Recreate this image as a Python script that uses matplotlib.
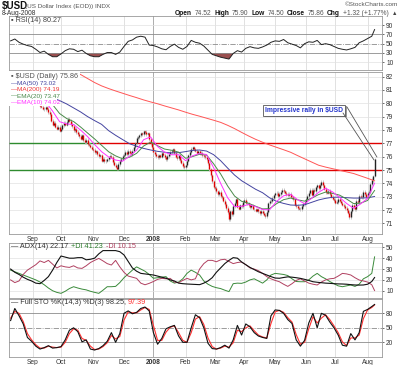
import numpy as np
import pandas as pd
import matplotlib
matplotlib.use("Agg")
import matplotlib.pyplot as plt
from matplotlib.patches import Rectangle

plt.rcParams['font.family'] = ['Liberation Sans', 'DejaVu Sans']

W, H = 400, 365          # output size in pixels
LEFT, RIGHT = 9, 382     # plot area, pixel columns
XMIN, XMAX = -1.15, 265.3

# ---- data --------------------------------------------------------------
first_day, last_day = '2007-08-10', '2008-08-08'

# daily closes, one row per week
closes = [
    80.90,
    81.05, 81.20, 81.35, 81.50, 81.30,
    81.35, 81.20, 81.25, 81.05, 80.95,
    81.10, 81.30, 81.15, 81.05, 80.85,
    80.80, 80.95, 80.60, 80.45, 80.15,
    79.80, 79.75, 79.60, 79.55, 79.70,
    79.60, 79.35, 79.20, 78.70, 78.40,
    78.55, 78.25, 78.10, 78.25, 77.95,
    78.10, 78.35, 78.55, 78.40, 78.60,
    78.85, 78.70, 78.45, 78.30, 78.00,
    78.10, 77.85, 77.70, 77.55, 77.35,
    77.60, 77.25, 77.10, 77.25, 76.95,
    76.90, 76.75, 76.60, 76.50, 76.35,
    76.40, 76.20, 76.05, 76.10, 75.70,
    75.85, 75.65, 75.70, 75.80, 75.95,
    76.05, 76.00, 75.60, 75.40, 75.25,
    75.10, 75.45, 75.70, 75.85, 76.05,
    76.15, 76.35, 76.20, 76.45, 76.30,
    76.20, 76.45, 76.70, 77.00, 77.40,
    77.45, 77.60, 77.75, 77.70, 77.90,
    77.85, 77.70, 77.75, 77.30, 77.00,
    76.70, 76.35, 76.20, 76.05, 75.95,
    76.10, 76.00, 76.25, 76.15, 75.95,
    75.80, 76.05, 76.20, 76.35, 76.45,
    76.55, 76.30, 76.00, 75.90, 76.10,
    75.75, 75.55, 75.30, 75.20, 75.35,
    75.70, 76.10, 76.35, 76.60, 76.70,
    76.55, 76.45, 76.30, 76.40, 76.25,
    76.30, 76.10, 76.05, 75.95, 75.80,
    75.50, 75.05, 74.60, 74.15, 73.70,
    73.65, 73.40, 73.20, 73.35, 73.05,
    72.95, 72.70, 72.45, 72.15, 71.85,
    71.30, 71.90, 71.70, 72.30, 72.55,
    72.80, 72.25, 72.10, 72.35, 72.30,
    72.60, 72.75, 72.55, 72.50, 72.35,
    72.20, 72.35, 72.10, 72.05, 71.95,
    72.05, 71.90, 71.75, 71.95, 71.80,
    71.65, 71.55, 71.85, 72.50, 72.70,
    72.65, 72.90, 73.10, 73.25, 73.30,
    73.05, 73.20, 73.35, 73.50, 73.40,
    73.30, 73.20, 73.10, 73.20, 73.00,
    72.95, 72.80, 72.40, 72.30, 72.15,
    72.10, 72.05, 72.30, 72.45, 72.60,
    72.85, 73.05, 73.30, 73.50, 73.15,
    73.50, 73.40, 73.70, 73.85, 73.65,
    73.90, 74.10, 73.85, 73.60, 73.35,
    73.30, 73.45, 73.20, 73.00, 72.85,
    72.75, 72.55, 72.60, 72.85, 72.70,
    72.55, 72.40, 72.30, 72.15, 72.00,
    71.80, 71.45, 71.90, 72.40, 72.20,
    72.05, 72.70, 72.60, 73.05, 73.00,
    72.95, 73.35, 73.20, 73.00, 73.30,
    73.35, 73.95, 74.25, 74.54, 75.86,
]
last_open, last_high, last_low = 74.52, 75.90, 74.50

# overlays, sampled every 5th session
ma50 = [80.90, 80.85, 80.80, 80.75, 80.65, 80.55, 80.40, 80.20, 79.95, 79.65,
        79.35, 79.00, 78.70, 78.42, 77.95, 77.60, 77.28, 76.97, 76.78, 76.62,
        76.50, 76.40, 76.33, 76.28, 76.30, 76.38, 76.47, 76.50, 76.42, 76.15,
        75.70, 75.15, 74.62, 74.20, 73.88, 73.56, 73.30, 72.92, 72.65, 72.50,
        72.38, 72.36, 72.40, 72.58, 72.76, 72.88, 72.96, 72.97, 72.93, 72.90,
        72.90, 72.92, 73.02]
ma200 = [83.90, 83.75, 83.60, 83.45, 83.30, 83.10, 82.90, 82.70, 82.55, 82.40,
         82.15, 81.85, 81.55, 81.30, 81.10, 80.92, 80.75, 80.58, 80.42, 80.25,
         80.10, 79.96, 79.80, 79.65, 79.50, 79.33, 79.17, 79.03, 78.88, 78.73,
         78.57, 78.35, 78.10, 77.82, 77.55, 77.30, 77.08, 76.88, 76.70, 76.52,
         76.33, 76.08, 75.84, 75.60, 75.36, 75.22, 75.10, 74.98, 74.86, 74.74,
         74.56, 74.38, 74.19]
ema20 = [81.00, 81.10, 81.10, 81.10, 80.93, 80.45, 79.90, 79.23, 78.86, 78.63,
         78.22, 77.77, 77.33, 76.85, 76.37, 76.06, 75.84, 75.96, 76.25, 76.80,
         77.09, 76.82, 76.57, 76.48, 76.34, 75.88, 76.01, 76.18, 76.12, 75.47,
         74.71, 73.81, 73.05, 72.66, 72.51, 72.29, 72.09, 72.11, 72.48, 72.78,
         72.90, 72.77, 72.67, 72.89, 73.16, 73.35, 73.25, 73.12, 72.83, 72.49,
         72.52, 72.72, 73.47]
ema10 = [80.90, 81.15, 81.15, 81.14, 80.78, 80.09, 79.41, 78.62, 78.45, 78.41,
         77.99, 77.50, 76.91, 76.37, 75.98, 75.75, 75.66, 76.04, 76.49, 77.27,
         77.48, 76.76, 76.34, 76.14, 76.15, 75.70, 76.07, 76.24, 76.16, 75.18,
         74.01, 72.93, 72.26, 72.28, 72.42, 72.26, 72.04, 72.02, 72.65, 73.07,
         73.18, 72.78, 72.47, 72.88, 73.33, 73.64, 73.36, 72.95, 72.50, 72.13,
         72.46, 72.88, 74.02]

# indicators, sampled every 3rd session plus the last one
rsi = [56, 60, 53, 49, 46, 44, 38, 31, 34, 27,
       22, 22, 28, 35, 39, 38, 33, 36, 29, 24,
       22, 22, 27, 31, 31, 27, 32, 44, 55, 58,
       64, 66, 64, 47, 46, 43, 39, 37, 44, 49,
       42, 38, 44, 57, 53, 51, 45, 36, 27, 24,
       21, 19, 17, 29, 35, 32, 40, 43.6, 41, 40,
       43, 47, 53, 56, 55, 59, 52, 49, 46, 41,
       50, 54, 53, 57, 48, 50, 48, 44, 40, 38,
       36.5, 39, 42, 52, 56, 61, 66, 80.27]
sto_k = [65, 90, 75, 58, 30, 22, 12, 6, 9, 13,
         8, 9, 11, 25, 45, 50, 42, 21, 25, 6,
         4, 7, 13, 22, 40, 20, 38, 80, 85, 79,
         82, 90, 93, 85, 40, 16, 28, 48, 52, 55,
         33, 20, 20, 50, 77, 71, 50, 18, 7, 6,
         9, 14, 8, 25, 55, 35, 58, 52, 40, 33,
         30, 28, 75, 87, 86, 80, 67, 59, 25, 12,
         24, 60, 80, 50, 80, 76, 62, 50, 35, 14,
         12, 38, 25, 40, 84, 88, 94, 98.25]
sto_d = [70, 84, 80, 63, 38, 25, 15, 8, 8, 12,
         10, 9, 10, 20, 38, 48, 45, 28, 24, 12,
         5, 6, 11, 19, 34, 27, 32, 66, 83, 81,
         81, 87, 92, 88, 55, 24, 24, 41, 51, 54,
         40, 24, 20, 40, 68, 73, 57, 29, 11, 6,
         8, 12, 10, 19, 45, 42, 50, 54, 44, 35,
         31, 29, 59, 83, 86, 82, 71, 62, 36, 16,
         20, 48, 73, 60, 70, 77, 67, 54, 40, 21,
         13, 29, 29, 35, 69, 87, 92, 97.39]
adx = [30, 27, 25, 22.5, 20.5, 19, 17, 16.5, 19.5, 23,
       29, 36, 42, 41, 40, 40, 40.5, 40.5, 38.5, 39,
       40, 44, 47, 47, 47, 47, 46, 43, 37, 31,
       28, 26, 25.5, 25, 24.5, 23.5, 22.5, 21.5, 20, 19,
       17, 16.5, 16.2, 16, 15.8, 15.6, 17, 19, 22, 27,
       31, 35, 38, 40.5, 40, 36.5, 34, 31.5, 29.5, 27.5,
       26, 24.5, 23, 21.7, 21.5, 22.2, 22.8, 22.5, 22, 21.4,
       20.5, 19.5, 18.3, 17.8, 17.4, 17, 16.8, 16.5, 16.3, 16.2,
       16, 15.6, 15.3, 15.2, 15.3, 16, 18.5, 22.17]
plus_di = [29, 27.5, 26, 24.5, 23, 21.5, 20, 18, 15.5, 12.5,
           10, 8.5, 7.6, 9.5, 12, 13.7, 12.5, 11.5, 10.8, 9.5,
           8.5, 7.6, 10.5, 13.7, 13.7, 14, 17.5, 22, 25.5, 29,
           32, 30, 28, 25, 21.5, 22, 22.5, 23, 19, 17,
           18, 21, 26, 29, 27, 24.5, 19, 16, 14, 12.8,
           12, 10.5, 9.2, 16.5, 17, 16.8, 18, 20, 21, 19,
           17, 20, 24.5, 26, 25.5, 25, 24, 21, 18.5, 18.3,
           18.3, 20, 23.5, 26, 23, 21, 18.5, 16.5, 14.5, 13.7,
           14.5, 15.3, 14, 16, 21, 23, 26, 41.23]
minus_di = [20, 17.5, 19, 25, 29, 31.5, 34, 37.5, 36, 38,
            34.5, 31, 33, 32, 31.5, 33, 31, 30.6, 33, 36,
            38, 39.8, 37.5, 35, 33.7, 38, 32, 27, 23.5, 22.5,
            21.4, 17, 15.5, 16.8, 18.5, 20.5, 21.4, 21, 21.4, 18,
            17.5, 19.5, 21.4, 20, 21, 30, 35, 38, 38, 36.7,
            38.5, 39, 37, 35, 36, 36.5, 34, 31, 30, 28.5,
            26, 23, 21, 19.5, 18.3, 16, 14, 16.5, 19.5, 21,
            19, 17, 16, 15.3, 18, 20, 21, 21.4, 23.5, 26,
            25.5, 24.5, 22, 19.9, 19, 18, 15.5, 10.15]

# support / resistance lines and the day each one was broken
levels = [77, 75]
level_breaks = ['2007-11-05', '2008-02-26']

month_labels = ['Sep', 'Oct', 'Nov', 'Dec', '2008', 'Feb',
                'Mar', 'Apr', 'May', 'Jun', 'Jul', 'Aug']

quote = [('Open', '74.52'), ('High', '75.90'), ('Low', '74.50'),
         ('Close', '75.86'), ('Chg', '+1.32 (+1.77%)')]

WICK = 0.12
FS = 5.2      # panel label size
TFS = 4.8     # tick label size


def put(fig, px, py, s, **kw):
    """Write text at a pixel position of the figure"""
    kw.setdefault('fontsize', FS)
    kw.setdefault('va', 'center')
    kw.setdefault('color', '#333333')
    return fig.text(px / W, 1 - py / H, s, **kw)


def put_row(fig, px, py, pieces, gap=2.5):
    """Write (text, style) pieces one after the other on a pixel row"""
    renderer = fig.canvas.get_renderer()
    for s, kw in pieces:
        t = put(fig, px, py, s, **kw)
        px += t.get_window_extent(renderer).width + gap
    return px


def add_panel(fig, top, bottom, ylim, yticks, month_idx, jan_idx):
    """Axes between two pixel rows, StockCharts look"""
    ax = fig.add_axes([LEFT / W, 1 - bottom / H, (RIGHT - LEFT) / W, (bottom - top) / H])
    ax.set_xlim(XMIN, XMAX)
    ax.set_ylim(*ylim)
    for m in month_idx:
        ax.axvline(m, color='#a0a0a0' if m == jan_idx else '#dcdcdc', lw=0.6, zorder=0)
    ax.yaxis.tick_right()
    ax.set_yticks(yticks)
    ax.tick_params(axis='y', labelsize=TFS, length=1.5, width=0.5, pad=1.5,
                   colors='#333333')
    ax.set_xticks(month_idx)
    ax.tick_params(axis='x', length=0, labelbottom=False, labelsize=TFS, pad=1.5,
                   colors='#333333')
    for s in ax.spines.values():
        s.set_color('#999999')
        s.set_linewidth(0.6)
    return ax


def month_ticks(ax):
    ax.set_xticklabels(month_labels)
    ax.tick_params(axis='x', labelbottom=True)
    for lab in ax.get_xticklabels():
        if lab.get_text() == '2008':
            lab.set_fontweight('bold')


def draw_chart():
    days = pd.bdate_range(first_day, last_day)
    n = len(days)
    x = np.arange(n)
    x5 = x[::5]
    x3 = np.r_[x[:-1:3], x[-1]]
    month_idx = [i for i in range(1, n) if days[i].month != days[i - 1].month]
    jan_idx = month_idx[month_labels.index('2008')]

    fig = plt.figure(figsize=(W / 100, H / 100), dpi=100)

    # header
    put(fig, 2, 6, r'\$USD', fontsize=7, fontweight='bold', color='#111111')
    put(fig, 25, 6.5, '(US Dollar Index (EOD)) INDX', fontsize=4.6, color='#555555')
    put(fig, 2, 13.5, '8-Aug-2008', fontsize=4.8)
    put(fig, 398, 5, '\u00a9StockCharts.com', ha='right', fontsize=4.6, color='#555555')
    pieces = []
    for label, value in quote:
        pieces.append((label, dict(fontsize=4.8, fontweight='bold', color='#111111')))
        pieces.append((value, dict(fontsize=4.8, color='#555555')))
    put_row(fig, 175, 13.5, pieces, gap=2.8)
    put(fig, 397, 13.5, '\u25b2', ha='right', fontsize=4, color='#444444')

    # ---- RSI ----
    ax = add_panel(fig, 16, 70, (-6.5, 109.4), [10, 30, 50, 70, 90], month_idx, jan_idx)
    r = np.array(rsi, dtype=float)
    for lv in (10, 90):
        ax.axhline(lv, color='#e2e2e2', lw=0.5, zorder=0)
    ax.axhline(70, color='#8c8c8c', lw=0.6)
    ax.axhline(30, color='#8c8c8c', lw=0.6)
    ax.axhline(50, color='#8c8c8c', lw=0.6, ls='-.')
    ax.fill_between(x3, r, 30, where=r < 30, interpolate=True, color='#9a4f4f', lw=0)
    ax.plot(x3, r, color='#222222', lw=0.7)
    put(fig, 11, 20, '\u25aa RSI(14) 80.27', color='#444444')

    # ---- price ----
    ax = add_panel(fig, 72, 234, (70.21, 82.34), list(range(71, 83)), month_idx, jan_idx)
    for lv in range(71, 83):
        ax.axhline(lv, color='#e2e2e2', lw=0.5, zorder=0)
    for level, brk in zip(levels, level_breaks):
        b = days.searchsorted(pd.Timestamp(brk))
        ax.hlines(level, XMIN, b, color='#2e8b2e', lw=1.0, zorder=3)
        ax.hlines(level, b, XMAX, color='#e00000', lw=1.0, zorder=3)

    c = np.array(closes)
    o = np.r_[c[0], c[:-1]]
    o[-1] = last_open
    top = np.maximum(o, c)
    bot = np.minimum(o, c)
    hi = top + WICK
    lo = bot - WICK
    hi[-1], lo[-1] = last_high, last_low
    up = c >= o
    ax.vlines(x, lo, hi, color='#bdbdbd', lw=0.6, zorder=4)
    ax.vlines(x[up], bot[up], top[up], color='#222222', lw=1.0, zorder=5)
    ax.vlines(x[~up], bot[~up], top[~up], color='#e00000', lw=1.0, zorder=5)

    ax.plot(x5, ma200, color='#ff5555', lw=0.7, zorder=6)
    ax.plot(x5, ma50, color='#4444a0', lw=0.7, zorder=6)
    ax.plot(x5, ema20, color='#4a8a4a', lw=0.7, zorder=6)
    ax.plot(x5, ema10, color='#ff33ff', lw=0.7, zorder=6)

    # legend sits on white, hiding what runs behind it
    ax.add_patch(Rectangle((0, (234 - 80) / 162), (80 - 9) / 373, 8 / 162,
                           transform=ax.transAxes, fc='white', ec='none', zorder=8))
    ax.add_patch(Rectangle((0, (234 - 106) / 162), (57 - 9) / 373, 26 / 162,
                           transform=ax.transAxes, fc='white', ec='none', zorder=8))
    put(fig, 11, 77, '\u25aa \\$USD (Daily) 75.86', color='#555555', zorder=9)
    legend = [('MA(50) 73.02', '#4444a0'), ('MA(200) 74.19', '#ee3333'),
              ('EMA(20) 73.47', '#4a8a4a'), ('EMA(10) 74.02', '#ff33ff')]
    for k, (s, col) in enumerate(legend):
        py = 83.5 + k * 6.4
        put(fig, 11, py, '\u2014', color=col, fontsize=4.6)
        put(fig, 17, py, s, color=col, fontsize=4.6)

    # callout
    note = 'Impressive rally in \\$USD'
    tx, ty = (304 - LEFT) / 373, (234 - 110) / 162
    ax.text(tx + 1.5 / 373, ty - 1.5 / 162, note, transform=ax.transAxes, ha='center',
            va='center', fontsize=4.8, fontweight='bold', color='none', zorder=9,
            bbox=dict(boxstyle='square,pad=0.3', fc='#9a9a9a', ec='none'))
    ax.text(tx, ty, note, transform=ax.transAxes, ha='center', va='center',
            fontsize=4.8, fontweight='bold', color='#2233cc', zorder=10,
            bbox=dict(boxstyle='square,pad=0.3', fc='white', ec='#555555', lw=0.6))
    for start, dx, dy in [((347 - LEFT) / 373, 1.7, 0.07), ((343 - LEFT) / 373, -0.4, -0.15)]:
        sy = (234 - (107 if dx > 0 else 113)) / 162
        ax.annotate('', xy=(x[-1] + dx, last_high + dy), xytext=(start, sy),
                    textcoords='axes fraction',
                    arrowprops=dict(arrowstyle='-', color='#555555', lw=0.6,
                                    shrinkA=0, shrinkB=0), zorder=10)
    month_ticks(ax)

    # ---- ADX ----
    ax = add_panel(fig, 243, 298, (3.3, 54), [10, 20, 30, 40, 50], month_idx, jan_idx)
    for lv in (10, 20, 30, 40, 50):
        ax.axhline(lv, color='#e2e2e2', lw=0.5, zorder=0)
    ax.plot(x3, plus_di, color='#3a8a3a', lw=0.7)
    ax.plot(x3, minus_di, color='#b04060', lw=0.7)
    ax.plot(x3, adx, color='#111111', lw=0.8)
    put_row(fig, 11, 247, [('\u2014 ADX(14) 22.17', dict(color='#333333')),
                           ('+DI 41.23', dict(color='#2e7d2e')),
                           ('-DI 10.15', dict(color='#b04060'))], gap=3)

    # ---- Full STO ----
    ax = add_panel(fig, 299, 356.5, (-9.4, 109.6), [20, 50, 80], month_idx, jan_idx)
    ax.axhline(80, color='#8c8c8c', lw=0.6)
    ax.axhline(20, color='#8c8c8c', lw=0.6)
    ax.axhline(50, color='#8c8c8c', lw=0.6, ls='-.')
    ax.plot(x3, sto_d, color='#ff3030', lw=0.8)
    ax.plot(x3, sto_k, color='#111111', lw=0.8)
    put_row(fig, 11, 303, [('\u2014 Full STO %K(14,3) %D(3) 98.25,', dict(color='#333333')),
                           ('97.39', dict(color='#ff3030'))], gap=2)
    month_ticks(ax)

    return fig


if __name__ == "__main__":
    fig = draw_chart()
    fig.savefig('out.png', dpi=100)
